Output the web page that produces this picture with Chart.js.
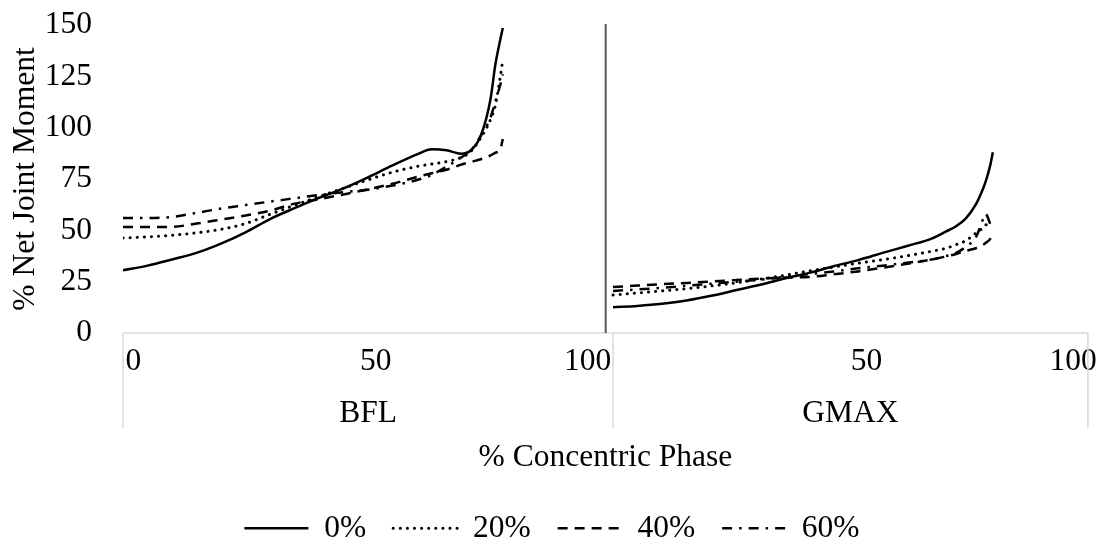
<!DOCTYPE html>
<html>
<head>
<meta charset="utf-8">
<script src="https://cdn.jsdelivr.net/npm/chart.js@4.4.1/dist/chart.umd.min.js"></script>
<style>
  html, body { margin: 0; padding: 0; background: #ffffff; }
  #wrap { width: 1099px; height: 542px; }
</style>
</head>
<body>
<div id="wrap"><canvas id="c" width="1099" height="542"></canvas></div>
<script>
// ---------------- data ----------------
const groups = ['BFL', 'GMAX'];
const seriesNames = ['0%', '20%', '40%', '60%'];
const bflTickLabels = ['0', '50', '100'];
const gmaxTickLabels = ['50', '100'];
const xTitle = '% Concentric Phase';
const yTitle = '% Net Joint Moment';

// BFL panel (x in % of panel width)
const bflX   = [0, 5, 10, 15, 20, 25, 30, 35, 40, 45, 50, 55, 60, 63, 66, 69, 71, 73, 75, 76, 77, 77.5];
const bfl0   = [30.5, 32.8, 35.8, 39.0, 43.5, 49.0, 55.5, 60.8, 65.8, 70.4, 75.8, 81.6, 87.0, 89.5, 89.0, 87.3, 89.0, 96, 114, 131, 143, 148.5];
const bfl20  = [46.3, 46.8, 47.6, 48.8, 50.5, 53.3, 57.8, 62.2, 66.4, 70.5, 74.6, 78.3, 81.1, 82.3, 83.5, 85.5, 88.5, 95, 104, 111, 125, 133];
const bfl40  = [51.6, 51.6, 51.7, 53.3, 55.2, 57.2, 59.6, 63.0, 65.2, 67.5, 70.0, 72.7, 76.0, 77.8, 79.5, 82.0, 83.3, 84.6, 86.5, 87.8, 89.5, 94.5];
const bfl60  = [56, 56, 56.5, 58.5, 60.6, 62.3, 64, 65.6, 67.2, 68.6, 69.8, 71.8, 74.5, 77, 81, 85.5, 89, 96, 105, 113, 121, 126];

// GMAX panel
const gmaxX  = [0, 5, 10, 15, 20, 25, 30, 35, 40, 45, 50, 55, 60, 65, 68, 70, 72, 74, 75, 76, 77, 77.5];
const gmax0  = [12.6, 13.2, 14.2, 15.8, 18.1, 20.8, 23.5, 26.5, 29.3, 32.5, 35.5, 39, 42.4, 46, 49.5, 52, 55.8, 62.5, 67.5, 73.5, 82, 88];
const gmax20 = [18.5, 19.5, 20.5, 21.6, 22.9, 24.4, 26.2, 28.1, 30.2, 32.1, 34, 35.7, 37.6, 39.8, 41.3, 43, 45, 48.5, 50.2, 52.5, 54, null];
const gmax40 = [22.4, 23.1, 23.8, 24.4, 25.1, 25.8, 26.5, 27, 27.3, 28.6, 30, 31.8, 33.7, 35.8, 37.3, 38.5, 40, 41.3, 42.2, 43.8, 46, 49];
const gmax60 = [20.5, 21.2, 22, 23, 24, 25, 26, 27.3, 28.7, 30, 31.5, 32.8, 34.2, 35.8, 37.5, 39, 42, 46.5, 52, 58, 53, null];

// ---------------- layout / style ----------------
const FONT = 'Liberation Serif';
const FS = 31.5;
const panelWidths = [100, 96.9];          // relative widths of the two panels
const xMax = panelWidths[0] + panelWidths[1];
const bflTickPos = [2.1, 51.6, 94.8];     // label anchor positions inside panel
const gmaxTickPos = [51.7, 93.9];
const crossLineAt = 98.5;                 // dark vertical axis line
const PLOT_BOTTOM = 333;
const X_H = 45;
const PAD_B = -12;
const PAD_L = 16;

const bflSeries = [bfl0, bfl20, bfl40, bfl60];
const gmaxSeries = [gmax0, gmax20, gmax40, gmax60];
const lineStyles = [
  { dash: [], width: 2.5, cap: 'butt' },
  { dash: [0.1, 7], width: 3, cap: 'round' },
  { dash: [10, 7], width: 2.5, cap: 'butt' },
  { dash: [10, 7, 2.5, 7], width: 2.5, cap: 'butt' }
];

const datasets = seriesNames.map((name, i) => {
  const pts = bflX.map((x, k) => ({ x: x, y: bflSeries[i][k] }));
  pts.push({ x: panelWidths[0], y: null });
  gmaxX.forEach((x, k) => pts.push({ x: panelWidths[0] + x, y: gmaxSeries[i][k] }));
  return {
    label: name,
    data: pts,
    borderColor: '#000000',
    backgroundColor: 'rgba(0,0,0,0)',
    borderWidth: lineStyles[i].width,
    borderDash: lineStyles[i].dash,
    borderCapStyle: lineStyles[i].cap,
    pointRadius: 0,
    pointHoverRadius: 0,
    cubicInterpolationMode: 'monotone',
    fill: false,
    spanGaps: false
  };
});

const xTickValues = bflTickPos.concat(gmaxTickPos.map(v => v + panelWidths[0]));
const xTickText = bflTickLabels.concat(gmaxTickLabels);
const groupCenters = [panelWidths[0] / 2, panelWidths[0] + panelWidths[1] / 2];

const panelFrame = {
  id: 'panelFrame',
  afterDraw(chart) {
    const ctx = chart.ctx;
    const xs = chart.scales.x;
    const x2 = chart.scales.x2;
    const ca = chart.chartArea;
    const edges = [0, panelWidths[0], xMax].map(v => xs.getPixelForValue(v));
    const boxBottom = x2.top + 50;
    ctx.save();
    ctx.strokeStyle = '#d9d9d9';
    ctx.lineWidth = 1.5;
    ctx.beginPath();
    ctx.moveTo(edges[0], ca.bottom);
    ctx.lineTo(edges[2], ca.bottom);
    edges.forEach(px => { ctx.moveTo(px, ca.bottom); ctx.lineTo(px, boxBottom); });
    ctx.stroke();
    const cx = xs.getPixelForValue(crossLineAt);
    ctx.strokeStyle = '#595959';
    ctx.lineWidth = 2;
    ctx.beginPath();
    ctx.moveTo(cx, ca.top - 1);
    ctx.lineTo(cx, ca.bottom);
    ctx.stroke();
    ctx.restore();
  }
};

new Chart(document.getElementById('c'), {
  type: 'line',
  data: { datasets: datasets },
  plugins: [panelFrame],
  options: {
    responsive: false,
    animation: false,
    devicePixelRatio: 1,
    layout: { padding: { top: 25, right: 11, bottom: PAD_B, left: PAD_L } },
    plugins: {
      legend: {
        position: 'bottom',
        labels: {
          usePointStyle: true,
          pointStyle: 'line',
          pointStyleWidth: 64,
          padding: 27,
          color: '#000000',
          font: { family: FONT, size: FS },
          generateLabels(chart) {
            const items = Chart.defaults.plugins.legend.labels.generateLabels(chart);
            return items.map((it, i) => Object.assign(it, {
              lineDash: lineStyles[i].dash,
              lineCap: lineStyles[i].cap,
              lineWidth: lineStyles[i].width,
              strokeStyle: '#000000',
              fillStyle: '#000000',
              pointStyle: 'line'
            }));
          }
        }
      },
      tooltip: { enabled: false }
    },
    scales: {
      y: {
        min: 0, max: 150,
        grid: { display: false, drawTicks: true, tickLength: 29 },
        border: { display: false },
        ticks: { stepSize: 25, padding: 2, color: '#000000', font: { family: FONT, size: FS } },
        title: { display: true, text: yTitle, color: '#000000', font: { family: FONT, size: FS }, padding: { top: -9, bottom: 0 } },
        afterFit(s) { s.width = 123 - PAD_L; }
      },
      x: {
        type: 'linear', position: 'bottom', min: 0, max: xMax,
        grid: { display: false, drawTicks: true, tickLength: 8 },
        border: { display: false },
        ticks: {
          autoSkip: false, maxRotation: 0, padding: 2, color: '#000000',
          font: { family: FONT, size: FS },
          callback: (v, i) => xTickText[i]
        },
        afterBuildTicks(s) { s.ticks = xTickValues.map(v => ({ value: v })); },
        afterFit(s) { s.height = X_H; }
      },
      x2: {
        type: 'linear', position: 'bottom', min: 0, max: xMax,
        grid: { display: false, drawTicks: false },
        border: { display: false },
        ticks: {
          autoSkip: false, maxRotation: 0, padding: 17, color: '#000000',
          font: { family: FONT, size: FS },
          callback: (v, i) => groups[i]
        },
        title: { display: true, text: xTitle, color: '#000000', font: { family: FONT, size: FS }, padding: { top: 0, bottom: 8.6 } },
        afterBuildTicks(s) { s.ticks = groupCenters.map(v => ({ value: v })); },
        afterFit(s) {
          const lh = (s.chart.legend && s.chart.legend.height) ? s.chart.legend.height : 70.5;
          s.height = 542 - PAD_B - lh - PLOT_BOTTOM - X_H;
        }
      }
    }
  }
});
</script>
</body>
</html>
